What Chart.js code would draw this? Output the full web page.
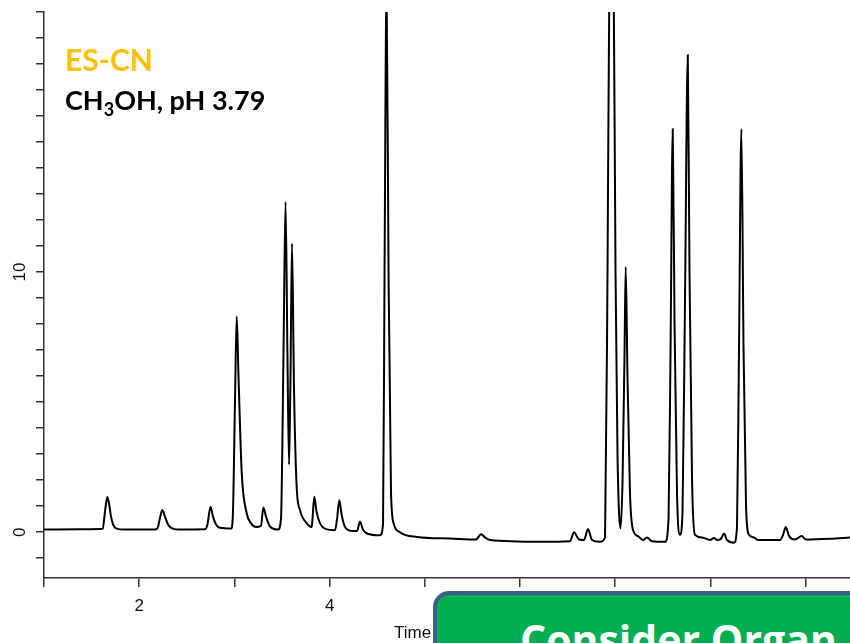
<!DOCTYPE html>
<html>
<head>
<meta charset="utf-8">
<script src="https://cdn.jsdelivr.net/npm/chart.js@4.4.0/dist/chart.umd.min.js"></script>
<style>
  html, body { margin: 0; padding: 0; background: #fff; overflow: hidden; }
  #wrap { position: relative; width: 850px; height: 643px; overflow: hidden; }
  #chart { position: absolute; left: 0; top: 0; }
  .lbl { position: absolute; white-space: nowrap; font-family: Lato, "Open Sans", sans-serif; font-weight: bold; line-height: 1; }
  #sample { left: 65px; top: 44px; font-size: 30px; color: #ffc000; }
  #cond { left: 65px; top: 86px; font-size: 27px; color: #000; }
  #cond sub { font-size: 18px; vertical-align: -6px; line-height: 0; }
  #timeLbl { position: absolute; left: 394px; top: 623px; font-family: "Liberation Sans", Arial, sans-serif; font-size: 17px; color: #111; }
  #note { position: absolute; left: 433px; top: 591px; width: 480px; height: 110px; box-sizing: border-box;
          border: 4px solid #3b5f8c; border-radius: 16px; background: #00b050; }
  #note span { position: absolute; left: 83px; top: 24px; font-family: "Open Sans", sans-serif; font-weight: bold;
               font-size: 41px; color: #fff; white-space: nowrap; line-height: 1; }
</style>
</head>
<body>
<div id="wrap">
  <canvas id="chart" width="850" height="643"></canvas>
  <div class="lbl" id="sample">ES-CN</div>
  <div class="lbl" id="cond">CH<sub>3</sub>OH, pH 3.79</div>
  <div id="timeLbl">Time</div>
  <div id="note"><span>Consider Organ</span></div>
</div>
<script>
// retention time (min)
const times = [
  1.000, 1.378, 1.588, 1.617, 1.641, 1.665, 1.683, 1.704, 1.725, 1.756, 1.851,
  2.166, 2.197, 2.218, 2.243, 2.271, 2.303, 2.345, 2.429,
  2.691, 2.717, 2.749, 2.775, 2.807, 2.849,
  2.964, 2.982, 3.006, 3.024, 3.043, 3.077, 3.129, 3.174, 3.227,
  3.279, 3.304, 3.332, 3.374, 3.458,
  3.489, 3.516, 3.537, 3.558, 3.574, 3.589, 3.605, 3.626, 3.654, 3.689, 3.759, 3.812,
  3.820, 3.839, 3.862, 3.899, 3.962,
  4.057, 4.078, 4.102, 4.125, 4.162, 4.235,
  4.288, 4.319, 4.351, 4.393, 4.529,
  4.561, 4.577, 4.598, 4.619, 4.645, 4.676, 4.739, 4.918, 5.265,
  5.538, 5.590, 5.632, 5.685, 6.210,
  6.525, 6.567, 6.620, 6.672, 6.714, 6.756, 6.840,
  6.893, 6.919, 6.940, 6.961, 6.982, 7.003, 7.024, 7.056,
  7.077, 7.098, 7.110, 7.129, 7.155, 7.186, 7.239, 7.292, 7.334, 7.387, 7.523,
  7.560, 7.581, 7.604, 7.623, 7.649, 7.681,
  7.707, 7.733, 7.762, 7.780, 7.807, 7.838, 7.912,
  7.996, 8.038, 8.069, 8.111, 8.143, 8.174, 8.248,
  8.279, 8.300, 8.325, 8.348, 8.374, 8.405, 8.458, 8.500,
  8.731, 8.763, 8.791, 8.826, 8.889, 8.959, 9.004, 9.256, 9.466
];
// detector signal
const signal = [
  0.10, 0.11, 0.12, 0.14, 0.80, 1.35, 1.10, 0.60, 0.30, 0.15, 0.10,
  0.10, 0.20, 0.55, 0.85, 0.60, 0.30, 0.15, 0.10,
  0.11, 0.30, 0.98, 0.60, 0.30, 0.17,
  0.14, 0.50, 5.00, 8.30, 6.00, 2.27, 0.73, 0.35, 0.20,
  0.25, 0.95, 0.60, 0.22, 0.10,
  0.50, 7.00, 12.70, 6.50, 2.60, 6.00, 11.10, 5.50, 1.74, 0.85, 0.35, 0.20,
  0.50, 1.36, 0.80, 0.35, 0.12,
  0.08, 0.50, 1.23, 0.70, 0.20, 0.05,
  0.05, 0.40, 0.10, -0.05, -0.12,
  0.30, 10.0, 21.0, 10.0, 1.50, 0.30, 0.00, -0.18, -0.24,
  -0.28, -0.08, -0.20, -0.30, -0.37,
  -0.35, 0.00, -0.28, -0.30, 0.12, -0.30, -0.37,
  -0.20, 10.0, 22.0, 24.0, 22.0, 10.0, 3.00, 0.15,
  2.00, 7.00, 10.20, 6.00, 1.50, 0.10, -0.15, -0.30, -0.20, -0.35, -0.37,
  0.50, 7.00, 15.50, 8.00, 1.50, -0.10,
  0.80, 9.00, 18.35, 10.0, 2.00, -0.10, -0.20,
  -0.30, -0.22, -0.30, -0.25, -0.05, -0.30, -0.40,
  0.20, 7.00, 15.50, 7.00, 1.00, -0.10, -0.20, -0.30,
  -0.30, -0.10, 0.20, -0.15, -0.28, -0.15, -0.28, -0.25, -0.20
];
const xTickLabels = [2, 4, 6, 8];
const yTickLabels = [0, 10];

const points = times.map((t, i) => ({ x: t, y: signal[i] }));

new Chart(document.getElementById("chart"), {
  type: "line",
  data: {
    datasets: [{
      data: points,
      borderColor: "#000",
      borderWidth: 2,
      pointRadius: 0,
      cubicInterpolationMode: "monotone",
      fill: false
    }]
  },
  options: {
    responsive: false,
    animation: false,
    layout: { padding: { top: 12, right: 0, bottom: 0, left: 0 } },
    plugins: { legend: { display: false }, tooltip: { enabled: false } },
    scales: {
      x: {
        type: "linear",
        min: 1,
        max: 9.466,
        afterFit: (s) => { s.height = 65; s.paddingLeft = 0; s.paddingRight = 0; },
        border: { display: true, color: "#333", width: 1.5 },
        grid: { drawOnChartArea: false, drawTicks: true, tickLength: 9, color: "#333", lineWidth: 1.5 },
        ticks: {
          stepSize: 1,
          includeBounds: false,
          autoSkip: false,
          maxRotation: 0,
          padding: 9,
          color: "#111",
          font: { family: "'Liberation Sans', Arial, sans-serif", size: 17 },
          callback: (v) => xTickLabels.includes(v) ? String(v) : ""
        }
      },
      y: {
        min: -1.76,
        max: 20,
        afterFit: (s) => { s.width = 44; s.paddingTop = 0; s.paddingBottom = 0; },
        border: { display: true, color: "#333", width: 1.5 },
        grid: { drawOnChartArea: false, drawTicks: true, tickLength: 8, color: "#333", lineWidth: 1.5 },
        ticks: {
          stepSize: 1,
          includeBounds: false,
          autoSkip: false,
          minRotation: 90,
          maxRotation: 90,
          crossAlign: "center",
          padding: 6,
          color: "#111",
          font: { family: "'Liberation Sans', Arial, sans-serif", size: 17 },
          callback: (v) => yTickLabels.includes(v) ? String(v) : ""
        }
      }
    }
  }
});
</script>
</body>
</html>
